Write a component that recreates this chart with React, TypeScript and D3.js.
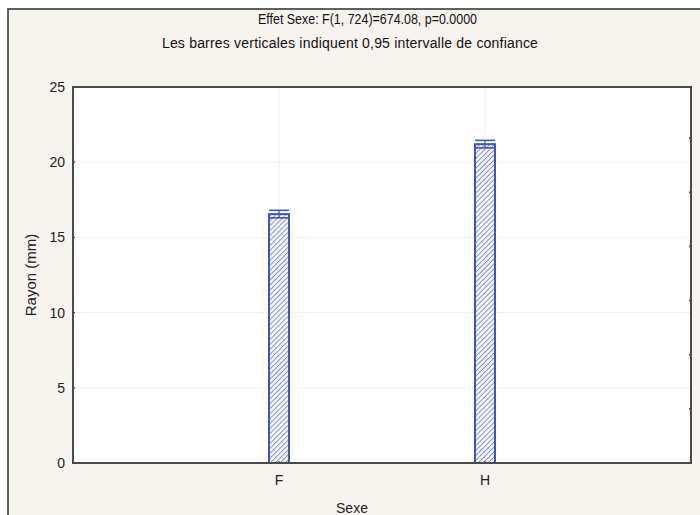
import React from "react";
import * as d3 from "d3";

const categories = ["F", "H"];
const means = [16.55, 21.2];
const ciLow = [16.3, 20.95];
const ciHigh = [16.8, 21.45];
const yTicks = [0, 5, 10, 15, 20, 25];
const rightTicks = [3.6, 7.2, 10.8, 14.4, 18, 21.6];
const title1 = "Effet Sexe: F(1, 724)=674.08, p=0.0000";
const title2 = "Les barres verticales indiquent 0,95 intervalle de confiance";
const xLabel = "Sexe";
const yLabel = "Rayon (mm)";

export default function App() {
  const W = 700, H = 515;
  const left = 73, right = 691, top = 87, bottom = 463;
  const x = d3.scalePoint<string>().domain(categories).range([left, right]).padding(1);
  const y = d3.scaleLinear().domain([0, 25]).range([bottom, top]);
  const bw = 20;
  const font = "'Liberation Sans', Arial, sans-serif";
  const blue = "#3f57b3";
  return (
    <svg width={W} height={H} style={{ position: "absolute", left: 0, top: 0, display: "block" }}>
      <defs>
        <pattern id="hatch" patternUnits="userSpaceOnUse" width={3.5} height={3.5} patternTransform="rotate(45)">
          <rect width={3.5} height={3.5} fill="#f4f6fc" />
          <line x1={0} y1={0} x2={0} y2={3.5} stroke="#6c80c6" strokeWidth={1.6} />
        </pattern>
      </defs>
      <rect x={0} y={0} width={W} height={H} fill="#ffffff" />
      <rect x={8} y={9} width={W + 10} height={H} fill="#f7f3ef" stroke="#2e2e2e" strokeWidth={1.5} />
      <text x={258} y={24} textLength={219} lengthAdjust="spacingAndGlyphs" fontFamily={font} fontSize={14} fill="#111">{title1}</text>
      <text x={350} y={48} textAnchor="middle" fontFamily={font} fontSize={14} letterSpacing={0.2} fill="#111">{title2}</text>
      <rect x={left} y={top} width={right - left} height={bottom - top} fill="#ffffff" />
      {yTicks.slice(1, -1).map((t) => (
        <line key={"g" + t} x1={left} x2={right} y1={y(t)} y2={y(t)} stroke="#eeeeee" strokeWidth={1} />
      ))}
      {categories.map((c) => (
        <line key={"v" + c} x1={x(c)} x2={x(c)} y1={top} y2={bottom} stroke="#eeeeee" strokeWidth={1} />
      ))}
      {categories.map((c, i) => {
        const cx = x(c) as number;
        return (
          <g key={c}>
            <rect x={cx - bw / 2} y={y(means[i])} width={bw} height={y(0) - y(means[i])} fill="url(#hatch)" stroke={blue} strokeWidth={2} />
            <line x1={cx} x2={cx} y1={y(ciHigh[i])} y2={y(ciLow[i])} stroke={blue} strokeWidth={1.2} />
            <line x1={cx - bw / 2} x2={cx + bw / 2} y1={y(ciHigh[i])} y2={y(ciHigh[i])} stroke={blue} strokeWidth={1.6} />
            <line x1={cx - bw / 2} x2={cx + bw / 2} y1={y(ciLow[i])} y2={y(ciLow[i])} stroke={blue} strokeWidth={1.6} />
          </g>
        );
      })}
      <rect x={left} y={top} width={right - left} height={bottom - top} fill="none" stroke="#4a4a4a" strokeWidth={2} />
      {yTicks.map((t) => (
        <g key={"t" + t}>
          <line x1={left} x2={left + 2} y1={y(t)} y2={y(t)} stroke="#444" strokeWidth={1.2} />
          <text x={65} y={y(t)} dy="0.35em" textAnchor="end" fontFamily={font} fontSize={14} fill="#222">{t}</text>
        </g>
      ))}
      {rightTicks.map((t) => (
        <line key={"r" + t} x1={right - 2} x2={right + 1} y1={y(t)} y2={y(t)} stroke="#444" strokeWidth={1.5} />
      ))}
      {categories.map((c) => (
        <g key={"xl" + c}>
          <line x1={x(c)} x2={x(c)} y1={bottom - 2} y2={bottom} stroke="#444" strokeWidth={1.2} />
          <text x={x(c)} y={480} dy="0.35em" textAnchor="middle" fontFamily={font} fontSize={14} fill="#222">{c}</text>
        </g>
      ))}
      <text x={352} y={508} dy="0.35em" textAnchor="middle" fontFamily={font} fontSize={14} fill="#222">{xLabel}</text>
      <text transform={`translate(31,275) rotate(-90)`} dy="0.35em" textAnchor="middle" fontFamily={font} fontSize={15} fill="#222">{yLabel}</text>
    </svg>
  );
}
